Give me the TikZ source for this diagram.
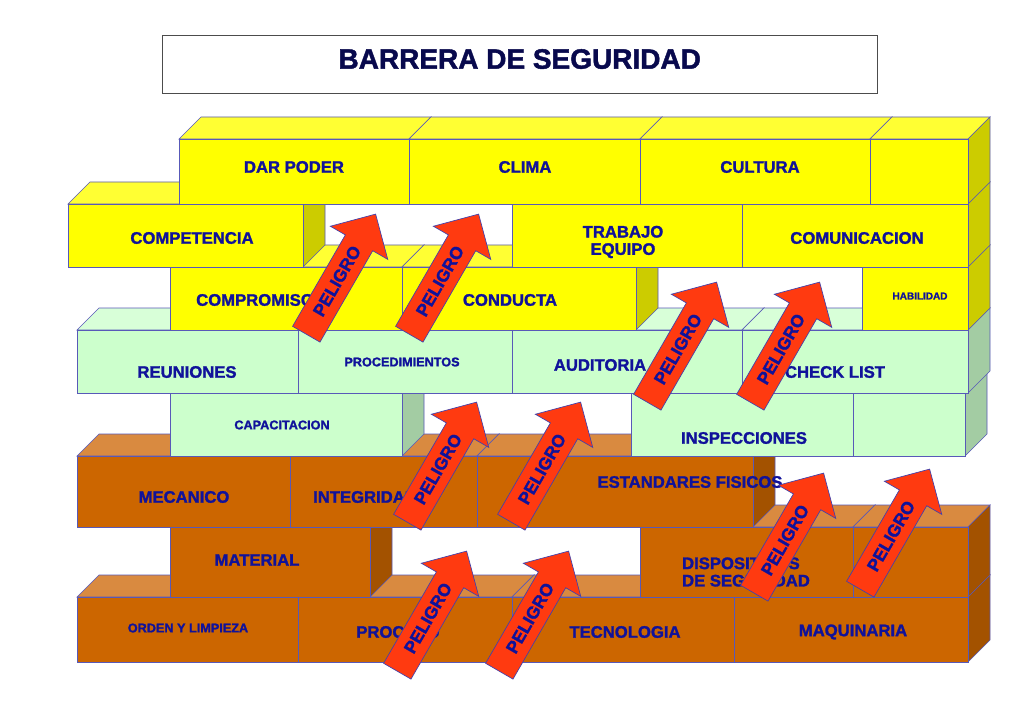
\documentclass[tikz,border=0pt]{standalone}
\usepackage{fontspec}
\setmainfont{Liberation Sans}
\newfontfamily\heavy[FakeBold=1.6]{Liberation Sans Bold}
\usetikzlibrary{shapes.arrows}
\definecolor{navy}{HTML}{10129A}
\definecolor{yF}{HTML}{FFFF00}\definecolor{yT}{HTML}{FFFF33}\definecolor{yS}{HTML}{CCCC00}
\definecolor{gF}{HTML}{CCFFCC}\definecolor{gT}{HTML}{D8FFD8}\definecolor{gS}{HTML}{A3CCA3}
\definecolor{bF}{HTML}{CC6600}\definecolor{bT}{HTML}{D98A40}\definecolor{bS}{HTML}{A35200}
\definecolor{arr}{HTML}{FF3A10}
\newcommand{\brk}[7]{% x1 x2 y1 y2 F T S
  \filldraw[draw=navy!70,fill=#6,line width=0.5pt] (#1,#3)--(#1+22,#3-22)--(#2+22,#3-22)--(#2,#3)--cycle;
  \filldraw[draw=navy!70,fill=#7,line width=0.5pt] (#2,#3)--(#2+22,#3-22)--(#2+22,#4-22)--(#2,#4)--cycle;
  \filldraw[draw=navy!70,fill=#5,line width=0.5pt] (#1,#3) rectangle (#2,#4);}
\newcommand{\yb}[4]{\brk{#1}{#2}{#3}{#4}{yF}{yT}{yS}}
\newcommand{\gb}[4]{\brk{#1}{#2}{#3}{#4}{gF}{gT}{gS}}
\newcommand{\bb}[4]{\brk{#1}{#2}{#3}{#4}{bF}{bT}{bS}}
\tikzset{lbl/.style={text=navy,font=\heavy\fontsize{12.5}{13}\selectfont,align=center,inner sep=0},
 sm/.style={lbl,font=\heavy\fontsize{9.5}{10}\selectfont},
 danger/.style={single arrow,draw=navy!80,fill=arr,text=navy,rotate=60,
  font=\heavy\fontsize{13}{13}\selectfont,minimum height=104pt,inner xsep=1pt,inner ysep=7pt,
  single arrow head extend=13pt,single arrow head indent=0pt,line width=0.5pt}}
\begin{document}
\begin{tikzpicture}[x=0.75pt,y=-0.75pt]
\useasboundingbox (0,0) rectangle (1024,709);
\fill[white] (0,0) rectangle (1024,709);
\node[draw=black!70,line width=0.6pt,minimum width=536pt,minimum height=43.5pt,anchor=north west,inner sep=0] (title) at (162,35) {};
\node[text=navy!50!black,font=\heavy\fontsize{21}{22}\selectfont] (tt) at ([yshift=4pt]title.center) {BARRERA DE SEGURIDAD};
% brown rows (bottom first)
\bb{77}{298}{597}{662}\bb{298}{512}{597}{662}\bb{512}{734}{597}{662}\bb{734}{968}{597}{662}
\bb{170}{370}{527}{597}\bb{640}{853}{527}{597}\bb{853}{968}{527}{597}
\bb{77}{290}{456}{527}\bb{290}{477}{456}{527}\bb{477}{753}{456}{527}
% green
\gb{170}{402}{393}{456}\gb{631}{853}{393}{456}\gb{853}{965}{393}{456}
\gb{77}{298}{330}{393}\gb{298}{512}{330}{393}\gb{512}{742}{330}{393}\gb{742}{968}{330}{393}
% yellow
\yb{170}{402}{267}{330}\yb{402}{636}{267}{330}\yb{862}{968}{267}{330}
\yb{68}{303}{204}{267}\yb{512}{742}{204}{267}\yb{742}{968}{204}{267}
\yb{179}{409}{139}{204}\yb{409}{640}{139}{204}\yb{640}{870}{139}{204}\yb{870}{968}{139}{204}
% labels
\node[lbl] (l1) at (294,167) {DAR PODER};
\node[lbl] (l2) at (525,167) {CLIMA};
\node[lbl] (l3) at (760,167) {CULTURA};
\node[lbl] (l4) at (192,238) {COMPETENCIA};
\node[lbl] (l5) at (623,242) {TRABAJO\\EQUIPO};
\node[lbl] (l6) at (857,238) {COMUNICACION};
\node[lbl] (l7) at (255,300) {COMPROMISO};
\node[lbl] (l8) at (510,300) {CONDUCTA};
\node[sm,font=\heavy\fontsize{7.5}{8}\selectfont] (l9) at (920,296) {HABILIDAD};
\node[lbl] (l10) at (187,372) {REUNIONES};
\node[sm] (l11) at (402,362) {PROCEDIMIENTOS};
\node[lbl] (l12) at (600,365) {AUDITORIA};
\node[lbl] (l13) at (835,372) {CHECK LIST};
\node[sm] (l14) at (282,425) {CAPACITACION};
\node[lbl] (l15) at (744,438) {INSPECCIONES};
\node[lbl] (l16) at (184,497) {MECANICO};
\node[lbl] (l17) at (365,497) {INTEGRIDAD};
\node[lbl] (l18) at (690,482) {ESTANDARES FISICOS};
\node[lbl] (l19) at (257,560) {MATERIAL};
\node[lbl,align=left] (l20) at (746,572) {DISPOSITIVOS\\DE SEGURIDAD};
\node[sm] (l21) at (188,628) {ORDEN Y LIMPIEZA};
\node[lbl] (l22) at (398,632) {PROCESO};
\node[lbl] (l23) at (625,632) {TECNOLOGIA};
\node[lbl] (l24) at (853,632) {MAQUINARIA};
% arrows (center = midpoint tail/tip)
\node[danger] (a1) at (337,281) {PELIGRO};
\node[danger] (a2) at (440,281) {PELIGRO};
\node[danger] (a3) at (678,349) {PELIGRO};
\node[danger] (a4) at (781,349) {PELIGRO};
\node[danger] (a5) at (438,469) {PELIGRO};
\node[danger] (a6) at (542,469) {PELIGRO};
\node[danger] (a7) at (785,540) {PELIGRO};
\node[danger] (a8) at (891,536) {PELIGRO};
\node[danger] (a9) at (428,618) {PELIGRO};
\node[danger] (a10) at (530,618) {PELIGRO};
\end{tikzpicture}
\end{document}
